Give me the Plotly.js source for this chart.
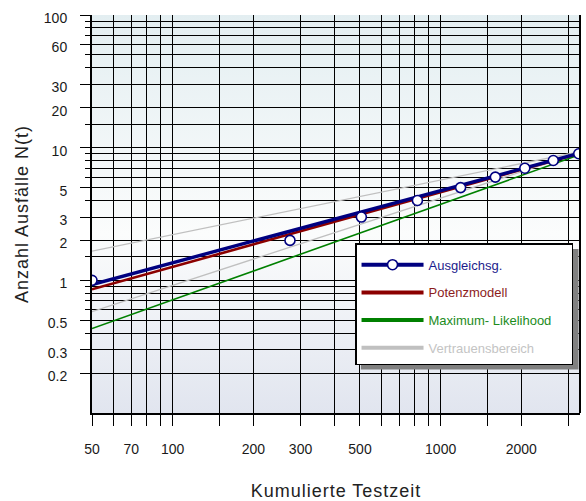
<!DOCTYPE html>
<html>
<head>
<meta charset="utf-8">
<script src="https://cdn.plot.ly/plotly-3.0.1.min.js"></script>
<style>
  html, body { margin: 0; padding: 0; background: #ffffff; }
  #chart { width: 586px; height: 501px; }
  text.xtitle, text.ytitle { letter-spacing: 1px; }
</style>
</head>
<body>
<div id="chart"></div>
<script>
// ---- data ----
const testTime = [50, 274, 506, 819, 1187, 1600, 2061, 2632, 3275];
const failures = [1, 2, 3, 4, 5, 6, 7, 8, 9];

const fitTime = [50, 3275];
const ausgleich = [0.93, 9.05];
const potenz = [0.855, 9.0];
const maxLikelihood = [0.433, 8.8];
const upperBound = [1.66, 9.3];
const lowerBound = [0.58, 9.1];

// ---- tick definitions ----
const xTickLabeled = [50, 70, 100, 200, 300, 500, 1000, 2000];
const xTickText = ['50', '70', '100', '200', '300', '500', '1000', '2000'];
const xTickMinor = [60, 80, 90, 150, 400, 600, 700, 800, 900, 1500, 3000];
const xTickLong = [100, 1000];
const xGridGray = [150, 300, 900, 1500, 3000];

const yTickLabeled = [0.2, 0.3, 0.5, 1, 2, 3, 5, 10, 20, 30, 60, 100];
const yTickText = ['0.2', '0.3', '0.5', '1', '2', '3', '5', '10', '20', '30', '60', '100'];
const yTickMinor = [0.4, 0.6, 0.7, 0.8, 0.9, 1.5, 4, 6, 7, 8, 9, 15, 40, 50, 70, 80, 90];
const yTickLong = [1, 10, 100];
const yGridGray = [4, 5, 8, 9, 10, 30, 70, 90];

const seriesNames = ['Ausgleichsg.', 'Potenzmodell', 'Maximum- Likelihood', 'Vertrauensbereich'];
const seriesColors = ['#000080', '#8b0000', '#008000', '#c0c0c0'];
const legendTextColors = ['#1c1c8c', '#8c1c1c', '#1c8c1c', '#c4c4c4'];

const xRange = [Math.log10(50), Math.log10(3311)];
const yRange = [-1, 2];

function lname(i) {
  return '<span style="color:' + legendTextColors[i] + '">' + seriesNames[i] + '</span>&nbsp;&nbsp;&nbsp;&nbsp;';
}

const traces = [
  { x: fitTime, y: upperBound, mode: 'lines', line: { color: seriesColors[3], width: 1.3 },
    showlegend: false, hoverinfo: 'skip' },
  { x: fitTime, y: lowerBound, mode: 'lines', line: { color: seriesColors[3], width: 1.3 },
    showlegend: false, hoverinfo: 'skip' },
  { x: fitTime, y: maxLikelihood, mode: 'lines', line: { color: seriesColors[2], width: 1.6 },
    showlegend: false },
  { x: fitTime, y: potenz, mode: 'lines', line: { color: seriesColors[1], width: 2.6 },
    showlegend: false },
  { x: fitTime, y: ausgleich, mode: 'lines', line: { color: seriesColors[0], width: 3.4 },
    showlegend: false },
  { x: testTime, y: failures, mode: 'markers',
    marker: { symbol: 'circle', size: 10, color: '#ffffff', line: { color: seriesColors[0], width: 1.6 } },
    showlegend: false },
  // legend entries
  { x: [null], y: [null], mode: 'lines+markers',
    line: { color: seriesColors[0], width: 4 },
    marker: { symbol: 'circle', size: 10, color: '#ffffff', line: { color: seriesColors[0], width: 1.6 } },
    name: lname(0), legendrank: 1, legendgroup: 'g1' },
  { x: [null], y: [null], mode: 'lines', line: { color: seriesColors[1], width: 4 },
    name: lname(1), legendrank: 2, legendgroup: 'g2' },
  { x: [null], y: [null], mode: 'lines', line: { color: seriesColors[2], width: 4 },
    name: lname(2), legendrank: 3, legendgroup: 'g3' },
  { x: [null], y: [null], mode: 'lines', line: { color: seriesColors[3], width: 4 },
    name: lname(3), legendrank: 4, legendgroup: 'g4' }
];

const tickFont = { family: 'Liberation Sans, Arial, sans-serif', size: 14, color: '#1a1a1a' };

const bgSvg = "<svg xmlns='http://www.w3.org/2000/svg' width='100' height='100' preserveAspectRatio='none'>" +
  "<defs><linearGradient id='g' x1='0' y1='0' x2='0' y2='1'>" +
  "<stop offset='0' stop-color='#e3eef1'/><stop offset='0.55' stop-color='#fbfcfc'/>" +
  "<stop offset='1' stop-color='#e1e5ef'/></linearGradient></defs>" +
  "<rect width='100' height='100' fill='url(#g)'/></svg>";

const layout = {
  width: 586, height: 501,
  margin: { l: 92, r: 6, t: 15, b: 88 },
  paper_bgcolor: '#ffffff',
  plot_bgcolor: 'rgba(0,0,0,0)',
  showlegend: true,
  font: { family: 'Liberation Sans, Arial, sans-serif', color: '#1a1a1a' },
  xaxis: {
    type: 'log', range: xRange, autorange: false,
    tickmode: 'array', tickvals: xTickLabeled, ticktext: xTickText,
    ticks: 'outside', ticklen: 11, tickwidth: 1, tickcolor: '#000000',
    tickfont: tickFont, ticklabelstandoff: 11,
    showgrid: true, gridcolor: '#000000', gridwidth: 1,
    minor: { tickmode: 'array', tickvals: xTickMinor, ticks: 'outside', ticklen: 11, tickwidth: 1,
             tickcolor: '#000000', showgrid: true, gridcolor: '#000000', gridwidth: 1 },
    showline: true, linecolor: '#000000', linewidth: 2, zeroline: false,
    title: { text: 'Kumulierte Testzeit', font: { size: 18, color: '#222222' }, standoff: 30 }
  },
  xaxis2: {
    type: 'log', range: xRange, autorange: false, overlaying: 'x', anchor: 'y', side: 'bottom',
    tickmode: 'array', tickvals: xTickLong, ticks: 'outside', ticklen: 16, tickwidth: 1, tickcolor: '#000000',
    showticklabels: false, showgrid: false, showline: false, zeroline: false
  },
  xaxis3: {
    type: 'log', range: xRange, autorange: false, overlaying: 'x', anchor: 'y', side: 'bottom',
    tickmode: 'array', tickvals: xGridGray, ticks: '',
    showticklabels: false, showgrid: true, gridcolor: '#7c7c7c', gridwidth: 2, showline: false, zeroline: false
  },
  yaxis: {
    type: 'log', range: yRange, autorange: false,
    tickmode: 'array', tickvals: yTickLabeled, ticktext: yTickText,
    ticks: 'outside', ticklen: 10, tickwidth: 1, tickcolor: '#000000',
    tickfont: tickFont, ticklabelstandoff: 10, ticklabelshift: 3,
    showgrid: true, gridcolor: '#000000', gridwidth: 1,
    minor: { tickmode: 'array', tickvals: yTickMinor, ticks: 'outside', ticklen: 5, tickwidth: 1,
             tickcolor: '#000000', showgrid: true, gridcolor: '#000000', gridwidth: 1 },
    showline: true, linecolor: '#000000', linewidth: 2, zeroline: false,
    title: { text: 'Anzahl Ausfälle N(t)', font: { size: 18, color: '#222222' }, standoff: 11 }
  },
  yaxis2: {
    type: 'log', range: yRange, autorange: false, overlaying: 'y', anchor: 'x', side: 'left',
    tickmode: 'array', tickvals: yTickLong, ticks: 'outside', ticklen: 15, tickwidth: 1, tickcolor: '#000000',
    showticklabels: false, showgrid: false, showline: false, zeroline: false
  },
  yaxis3: {
    type: 'log', range: yRange, autorange: false, overlaying: 'y', anchor: 'x', side: 'left',
    tickmode: 'array', tickvals: yGridGray, ticks: '',
    showticklabels: false, showgrid: true, gridcolor: '#7c7c7c', gridwidth: 2, showline: false, zeroline: false
  },
  legend: {
    x: 0.539, y: 0.427, xanchor: 'left', yanchor: 'top',
    bgcolor: '#ffffff', bordercolor: '#000000', borderwidth: 1.5,
    font: { family: 'Liberation Sans, Arial, sans-serif', size: 13 },
    itemwidth: 62, traceorder: 'grouped', tracegroupgap: 7.8,
    title: { text: '&nbsp;', font: { size: 4 } }
  },
  images: [{
    source: 'data:image/svg+xml;base64,' + btoa(bgSvg),
    xref: 'paper', yref: 'paper', x: 0, y: 1, sizex: 1, sizey: 1,
    sizing: 'stretch', layer: 'below', xanchor: 'left', yanchor: 'top'
  }],
  shapes: [
    { type: 'line', xref: 'paper', yref: 'paper', x0: 1, x1: 1, y0: 0, y1: 1,
      line: { color: '#000000', width: 2 }, layer: 'above' },
    { type: 'rect', xref: 'paper', yref: 'paper', x0: 0.551, x1: 0.997, y0: 0.109, y1: 0.412,
      fillcolor: '#808080', line: { width: 0 }, layer: 'above' }
  ]
};

Plotly.newPlot('chart', traces, layout, { displayModeBar: false, staticPlot: true });
</script>
</body>
</html>
